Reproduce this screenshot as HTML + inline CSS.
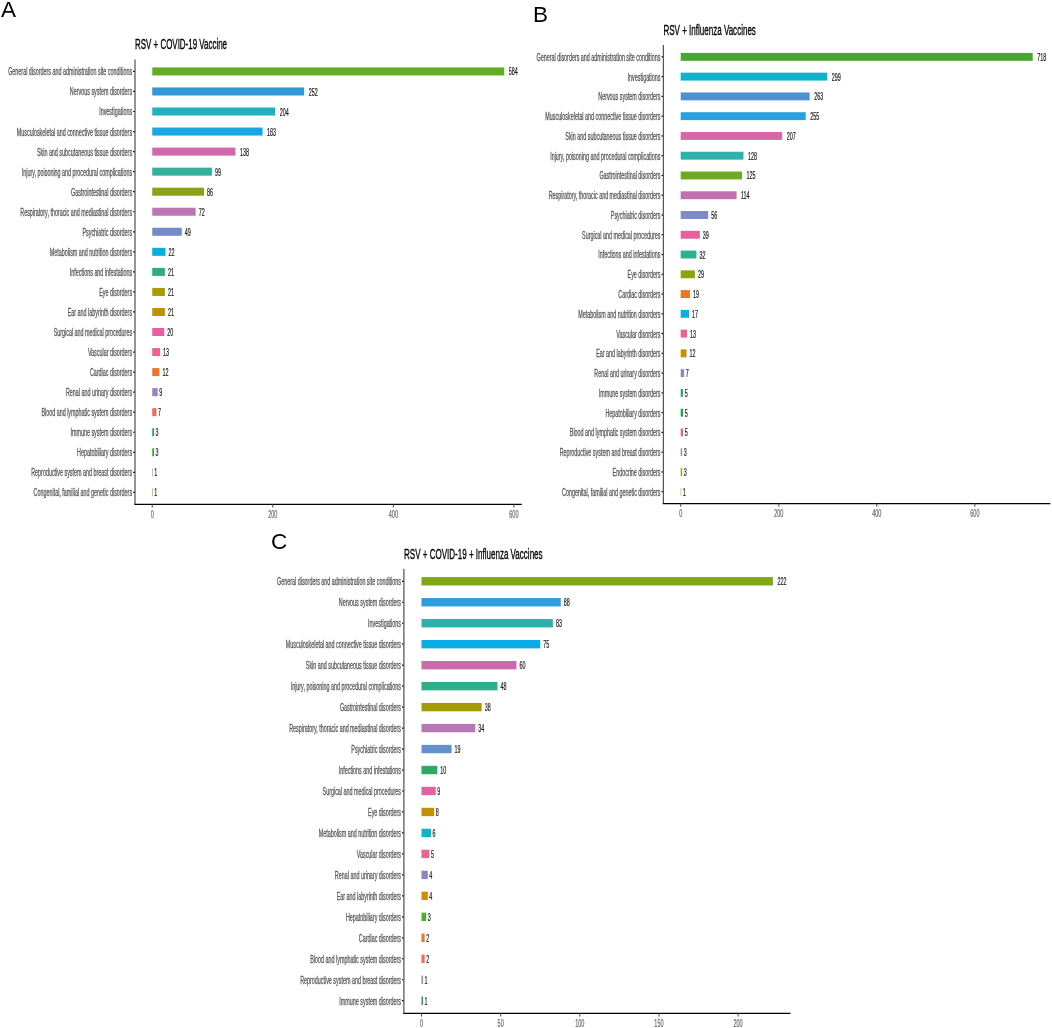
<!DOCTYPE html>
<html><head><meta charset="utf-8"><style>
html,body{margin:0;padding:0;background:#fff;}
svg{display:block;filter:blur(0.3px);}
text{font-family:"Liberation Sans",sans-serif;}
.c{stroke:#555;stroke-width:0.28;}
.k{stroke:#666;stroke-width:0.2;}
.v{stroke:#1A1A1A;stroke-width:0.22;}
.t{stroke:#000;stroke-width:0.35;}
</style></head><body>
<svg width="1052" height="1028" viewBox="0 0 1052 1028">
<rect width="1052" height="1028" fill="#fff"/>
<text x="1.00" y="16.70" font-size="22.5" fill="#000">A</text>
<text transform="translate(135.00,49.00) scale(0.5135,1)" font-size="15.5" fill="#000" class="t">RSV + COVID-19 Vaccine</text>
<rect x="152.25" y="67.42" width="352.00" height="8.02" fill="#64AB26"/>
<text transform="translate(508.76,75.45) scale(0.515,1)" font-size="10.5" fill="#1A1A1A" class="v">584</text>
<text transform="translate(132.10,75.37) scale(0.519,1)" font-size="10.4" fill="#555555" class="c" text-anchor="end">General disorders and administration site conditions</text>
<line x1="133.10" y1="71.43" x2="135.00" y2="71.43" stroke="#000" stroke-width="1.2"/>
<rect x="152.25" y="87.46" width="151.89" height="8.02" fill="#3596D8"/>
<text transform="translate(308.65,95.50) scale(0.515,1)" font-size="10.5" fill="#1A1A1A" class="v">252</text>
<text transform="translate(132.10,95.41) scale(0.519,1)" font-size="10.4" fill="#555555" class="c" text-anchor="end">Nervous system disorders</text>
<line x1="133.10" y1="91.47" x2="135.00" y2="91.47" stroke="#000" stroke-width="1.2"/>
<rect x="152.25" y="107.51" width="122.96" height="8.02" fill="#22B1BA"/>
<text transform="translate(279.72,115.54) scale(0.515,1)" font-size="10.5" fill="#1A1A1A" class="v">204</text>
<text transform="translate(132.10,115.46) scale(0.519,1)" font-size="10.4" fill="#555555" class="c" text-anchor="end">Investigations</text>
<line x1="133.10" y1="111.52" x2="135.00" y2="111.52" stroke="#000" stroke-width="1.2"/>
<rect x="152.25" y="127.55" width="110.30" height="8.02" fill="#19A6E2"/>
<text transform="translate(267.06,135.59) scale(0.515,1)" font-size="10.5" fill="#1A1A1A" class="v">183</text>
<text transform="translate(132.10,135.50) scale(0.519,1)" font-size="10.4" fill="#555555" class="c" text-anchor="end">Musculoskeletal and connective tissue disorders</text>
<line x1="133.10" y1="131.56" x2="135.00" y2="131.56" stroke="#000" stroke-width="1.2"/>
<rect x="152.25" y="147.60" width="83.18" height="8.02" fill="#D268A9"/>
<text transform="translate(239.94,155.63) scale(0.515,1)" font-size="10.5" fill="#1A1A1A" class="v">138</text>
<text transform="translate(132.10,155.55) scale(0.519,1)" font-size="10.4" fill="#555555" class="c" text-anchor="end">Skin and subcutaneous tissue disorders</text>
<line x1="133.10" y1="151.61" x2="135.00" y2="151.61" stroke="#000" stroke-width="1.2"/>
<rect x="152.25" y="167.64" width="59.67" height="8.02" fill="#33B09C"/>
<text transform="translate(214.93,175.68) scale(0.515,1)" font-size="10.5" fill="#1A1A1A" class="v">99</text>
<text transform="translate(132.10,175.59) scale(0.519,1)" font-size="10.4" fill="#555555" class="c" text-anchor="end">Injury, poisoning and procedural complications</text>
<line x1="133.10" y1="171.65" x2="135.00" y2="171.65" stroke="#000" stroke-width="1.2"/>
<rect x="152.25" y="187.69" width="51.84" height="8.02" fill="#89A314"/>
<text transform="translate(207.09,195.72) scale(0.515,1)" font-size="10.5" fill="#1A1A1A" class="v">86</text>
<text transform="translate(132.10,195.64) scale(0.519,1)" font-size="10.4" fill="#555555" class="c" text-anchor="end">Gastrointestinal disorders</text>
<line x1="133.10" y1="191.70" x2="135.00" y2="191.70" stroke="#000" stroke-width="1.2"/>
<rect x="152.25" y="207.73" width="43.40" height="8.02" fill="#BB76B2"/>
<text transform="translate(198.65,215.77) scale(0.515,1)" font-size="10.5" fill="#1A1A1A" class="v">72</text>
<text transform="translate(132.10,215.68) scale(0.519,1)" font-size="10.4" fill="#555555" class="c" text-anchor="end">Respiratory, thoracic and mediastinal disorders</text>
<line x1="133.10" y1="211.74" x2="135.00" y2="211.74" stroke="#000" stroke-width="1.2"/>
<rect x="152.25" y="227.78" width="29.53" height="8.02" fill="#758BC9"/>
<text transform="translate(184.79,235.81) scale(0.515,1)" font-size="10.5" fill="#1A1A1A" class="v">49</text>
<text transform="translate(132.10,235.73) scale(0.519,1)" font-size="10.4" fill="#555555" class="c" text-anchor="end">Psychiatric disorders</text>
<line x1="133.10" y1="231.79" x2="135.00" y2="231.79" stroke="#000" stroke-width="1.2"/>
<rect x="152.25" y="247.82" width="13.26" height="8.02" fill="#03B1DC"/>
<text transform="translate(168.52,255.86) scale(0.515,1)" font-size="10.5" fill="#1A1A1A" class="v">22</text>
<text transform="translate(132.10,255.77) scale(0.519,1)" font-size="10.4" fill="#555555" class="c" text-anchor="end">Metabolism and nutrition disorders</text>
<line x1="133.10" y1="251.83" x2="135.00" y2="251.83" stroke="#000" stroke-width="1.2"/>
<rect x="152.25" y="267.87" width="12.66" height="8.02" fill="#33AC7C"/>
<text transform="translate(167.91,275.90) scale(0.515,1)" font-size="10.5" fill="#1A1A1A" class="v">21</text>
<text transform="translate(132.10,275.82) scale(0.519,1)" font-size="10.4" fill="#555555" class="c" text-anchor="end">Infections and infestations</text>
<line x1="133.10" y1="271.88" x2="135.00" y2="271.88" stroke="#000" stroke-width="1.2"/>
<rect x="152.25" y="287.91" width="12.66" height="8.02" fill="#A99C03"/>
<text transform="translate(167.91,295.95) scale(0.515,1)" font-size="10.5" fill="#1A1A1A" class="v">21</text>
<text transform="translate(132.10,295.86) scale(0.519,1)" font-size="10.4" fill="#555555" class="c" text-anchor="end">Eye disorders</text>
<line x1="133.10" y1="291.92" x2="135.00" y2="291.92" stroke="#000" stroke-width="1.2"/>
<rect x="152.25" y="307.96" width="12.66" height="8.02" fill="#C19105"/>
<text transform="translate(167.91,316.00) scale(0.515,1)" font-size="10.5" fill="#1A1A1A" class="v">21</text>
<text transform="translate(132.10,315.91) scale(0.519,1)" font-size="10.4" fill="#555555" class="c" text-anchor="end">Ear and labyrinth disorders</text>
<line x1="133.10" y1="311.97" x2="135.00" y2="311.97" stroke="#000" stroke-width="1.2"/>
<rect x="152.25" y="328.00" width="12.05" height="8.02" fill="#E65F9F"/>
<text transform="translate(167.31,336.04) scale(0.515,1)" font-size="10.5" fill="#1A1A1A" class="v">20</text>
<text transform="translate(132.10,335.95) scale(0.519,1)" font-size="10.4" fill="#555555" class="c" text-anchor="end">Surgical and medical procedures</text>
<line x1="133.10" y1="332.01" x2="135.00" y2="332.01" stroke="#000" stroke-width="1.2"/>
<rect x="152.25" y="348.05" width="7.84" height="8.02" fill="#EC648C"/>
<text transform="translate(163.09,356.09) scale(0.515,1)" font-size="10.5" fill="#1A1A1A" class="v">13</text>
<text transform="translate(132.10,356.00) scale(0.519,1)" font-size="10.4" fill="#555555" class="c" text-anchor="end">Vascular disorders</text>
<line x1="133.10" y1="352.06" x2="135.00" y2="352.06" stroke="#000" stroke-width="1.2"/>
<rect x="152.25" y="368.09" width="7.23" height="8.02" fill="#E6772A"/>
<text transform="translate(162.49,376.13) scale(0.515,1)" font-size="10.5" fill="#1A1A1A" class="v">12</text>
<text transform="translate(132.10,376.04) scale(0.519,1)" font-size="10.4" fill="#555555" class="c" text-anchor="end">Cardiac disorders</text>
<line x1="133.10" y1="372.10" x2="135.00" y2="372.10" stroke="#000" stroke-width="1.2"/>
<rect x="152.25" y="388.14" width="5.42" height="8.02" fill="#9584C1"/>
<text transform="translate(159.18,396.18) scale(0.515,1)" font-size="10.5" fill="#1A1A1A" class="v">9</text>
<text transform="translate(132.10,396.09) scale(0.519,1)" font-size="10.4" fill="#555555" class="c" text-anchor="end">Renal and urinary disorders</text>
<line x1="133.10" y1="392.15" x2="135.00" y2="392.15" stroke="#000" stroke-width="1.2"/>
<rect x="152.25" y="408.18" width="4.22" height="8.02" fill="#EF6A62"/>
<text transform="translate(157.97,416.22) scale(0.515,1)" font-size="10.5" fill="#1A1A1A" class="v">7</text>
<text transform="translate(132.10,416.13) scale(0.519,1)" font-size="10.4" fill="#555555" class="c" text-anchor="end">Blood and lymphatic system disorders</text>
<line x1="133.10" y1="412.19" x2="135.00" y2="412.19" stroke="#000" stroke-width="1.2"/>
<rect x="152.25" y="428.23" width="1.81" height="8.02" fill="#2AA651"/>
<text transform="translate(155.56,436.27) scale(0.515,1)" font-size="10.5" fill="#1A1A1A" class="v">3</text>
<text transform="translate(132.10,436.18) scale(0.519,1)" font-size="10.4" fill="#555555" class="c" text-anchor="end">Immune system disorders</text>
<line x1="133.10" y1="432.24" x2="135.00" y2="432.24" stroke="#000" stroke-width="1.2"/>
<rect x="152.25" y="448.27" width="1.81" height="8.02" fill="#38A631"/>
<text transform="translate(155.56,456.31) scale(0.515,1)" font-size="10.5" fill="#1A1A1A" class="v">3</text>
<text transform="translate(132.10,456.22) scale(0.519,1)" font-size="10.4" fill="#555555" class="c" text-anchor="end">Hepatobiliary disorders</text>
<line x1="133.10" y1="452.28" x2="135.00" y2="452.28" stroke="#000" stroke-width="1.2"/>
<rect x="152.25" y="468.32" width="0.60" height="8.02" fill="#A97EBA"/>
<text transform="translate(154.36,476.36) scale(0.515,1)" font-size="10.5" fill="#1A1A1A" class="v">1</text>
<text transform="translate(132.10,476.27) scale(0.519,1)" font-size="10.4" fill="#555555" class="c" text-anchor="end">Reproductive system and breast disorders</text>
<line x1="133.10" y1="472.33" x2="135.00" y2="472.33" stroke="#000" stroke-width="1.2"/>
<rect x="152.25" y="488.36" width="0.60" height="8.02" fill="#D6870B"/>
<text transform="translate(154.36,496.40) scale(0.515,1)" font-size="10.5" fill="#1A1A1A" class="v">1</text>
<text transform="translate(132.10,496.31) scale(0.519,1)" font-size="10.4" fill="#555555" class="c" text-anchor="end">Congenital, familial and genetic disorders</text>
<line x1="133.10" y1="492.37" x2="135.00" y2="492.37" stroke="#000" stroke-width="1.2"/>
<line x1="135.00" y1="59.40" x2="135.00" y2="504.40" stroke="#555555" stroke-width="1.25"/>
<line x1="134.40" y1="504.40" x2="521.80" y2="504.40" stroke="#000" stroke-width="1.3"/>
<line x1="152.25" y1="504.40" x2="152.25" y2="507.60" stroke="#555" stroke-width="1.1"/>
<text transform="translate(152.25,517.80) scale(0.535,1)" font-size="10.3" fill="#666666" class="k" text-anchor="middle">0</text>
<line x1="272.80" y1="504.40" x2="272.80" y2="507.60" stroke="#555" stroke-width="1.1"/>
<text transform="translate(272.80,517.80) scale(0.535,1)" font-size="10.3" fill="#666666" class="k" text-anchor="middle">200</text>
<line x1="393.35" y1="504.40" x2="393.35" y2="507.60" stroke="#555" stroke-width="1.1"/>
<text transform="translate(393.35,517.80) scale(0.535,1)" font-size="10.3" fill="#666666" class="k" text-anchor="middle">400</text>
<line x1="513.89" y1="504.40" x2="513.89" y2="507.60" stroke="#555" stroke-width="1.1"/>
<text transform="translate(513.89,517.80) scale(0.535,1)" font-size="10.3" fill="#666666" class="k" text-anchor="middle">600</text>
<text x="533.00" y="22.40" font-size="22.5" fill="#000">B</text>
<text transform="translate(663.40,34.90) scale(0.519,1)" font-size="15.5" fill="#000" class="t">RSV + Influenza Vaccines</text>
<rect x="680.70" y="52.91" width="352.00" height="7.91" fill="#46A92E"/>
<text transform="translate(1037.21,60.89) scale(0.515,1)" font-size="10.5" fill="#1A1A1A" class="v">718</text>
<text transform="translate(660.50,60.80) scale(0.519,1)" font-size="10.4" fill="#555555" class="c" text-anchor="end">General disorders and administration site conditions</text>
<line x1="661.50" y1="56.86" x2="663.40" y2="56.86" stroke="#000" stroke-width="1.2"/>
<rect x="680.70" y="72.67" width="146.58" height="7.91" fill="#11B1CB"/>
<text transform="translate(831.80,80.66) scale(0.515,1)" font-size="10.5" fill="#1A1A1A" class="v">299</text>
<text transform="translate(660.50,80.57) scale(0.519,1)" font-size="10.4" fill="#555555" class="c" text-anchor="end">Investigations</text>
<line x1="661.50" y1="76.63" x2="663.40" y2="76.63" stroke="#000" stroke-width="1.2"/>
<rect x="680.70" y="92.44" width="128.94" height="7.91" fill="#4D91D3"/>
<text transform="translate(814.15,100.42) scale(0.515,1)" font-size="10.5" fill="#1A1A1A" class="v">263</text>
<text transform="translate(660.50,100.33) scale(0.519,1)" font-size="10.4" fill="#555555" class="c" text-anchor="end">Nervous system disorders</text>
<line x1="661.50" y1="96.39" x2="663.40" y2="96.39" stroke="#000" stroke-width="1.2"/>
<rect x="680.70" y="112.21" width="125.01" height="7.91" fill="#2BA0DF"/>
<text transform="translate(810.23,120.19) scale(0.515,1)" font-size="10.5" fill="#1A1A1A" class="v">255</text>
<text transform="translate(660.50,120.10) scale(0.519,1)" font-size="10.4" fill="#555555" class="c" text-anchor="end">Musculoskeletal and connective tissue disorders</text>
<line x1="661.50" y1="116.16" x2="663.40" y2="116.16" stroke="#000" stroke-width="1.2"/>
<rect x="680.70" y="131.98" width="101.48" height="7.91" fill="#D667A8"/>
<text transform="translate(786.69,139.96) scale(0.515,1)" font-size="10.5" fill="#1A1A1A" class="v">207</text>
<text transform="translate(660.50,139.87) scale(0.519,1)" font-size="10.4" fill="#555555" class="c" text-anchor="end">Skin and subcutaneous tissue disorders</text>
<line x1="661.50" y1="135.93" x2="663.40" y2="135.93" stroke="#000" stroke-width="1.2"/>
<rect x="680.70" y="151.74" width="62.75" height="7.91" fill="#2CB1AC"/>
<text transform="translate(747.96,159.72) scale(0.515,1)" font-size="10.5" fill="#1A1A1A" class="v">128</text>
<text transform="translate(660.50,159.63) scale(0.519,1)" font-size="10.4" fill="#555555" class="c" text-anchor="end">Injury, poisoning and procedural complications</text>
<line x1="661.50" y1="155.70" x2="663.40" y2="155.70" stroke="#000" stroke-width="1.2"/>
<rect x="680.70" y="171.51" width="61.28" height="7.91" fill="#6EAA21"/>
<text transform="translate(746.49,179.49) scale(0.515,1)" font-size="10.5" fill="#1A1A1A" class="v">125</text>
<text transform="translate(660.50,179.40) scale(0.519,1)" font-size="10.4" fill="#555555" class="c" text-anchor="end">Gastrointestinal disorders</text>
<line x1="661.50" y1="175.46" x2="663.40" y2="175.46" stroke="#000" stroke-width="1.2"/>
<rect x="680.70" y="191.28" width="55.89" height="7.91" fill="#BE73B0"/>
<text transform="translate(740.90,199.26) scale(0.515,1)" font-size="10.5" fill="#1A1A1A" class="v">114</text>
<text transform="translate(660.50,199.17) scale(0.519,1)" font-size="10.4" fill="#555555" class="c" text-anchor="end">Respiratory, thoracic and mediastinal disorders</text>
<line x1="661.50" y1="195.23" x2="663.40" y2="195.23" stroke="#000" stroke-width="1.2"/>
<rect x="680.70" y="211.04" width="27.45" height="7.91" fill="#8189C7"/>
<text transform="translate(711.16,219.03) scale(0.515,1)" font-size="10.5" fill="#1A1A1A" class="v">56</text>
<text transform="translate(660.50,218.94) scale(0.519,1)" font-size="10.4" fill="#555555" class="c" text-anchor="end">Psychiatric disorders</text>
<line x1="661.50" y1="215.00" x2="663.40" y2="215.00" stroke="#000" stroke-width="1.2"/>
<rect x="680.70" y="230.81" width="19.12" height="7.91" fill="#E75F9E"/>
<text transform="translate(702.83,238.79) scale(0.515,1)" font-size="10.5" fill="#1A1A1A" class="v">39</text>
<text transform="translate(660.50,238.70) scale(0.519,1)" font-size="10.4" fill="#555555" class="c" text-anchor="end">Surgical and medical procedures</text>
<line x1="661.50" y1="234.77" x2="663.40" y2="234.77" stroke="#000" stroke-width="1.2"/>
<rect x="680.70" y="250.58" width="15.69" height="7.91" fill="#30AE8F"/>
<text transform="translate(699.40,258.56) scale(0.515,1)" font-size="10.5" fill="#1A1A1A" class="v">32</text>
<text transform="translate(660.50,258.47) scale(0.519,1)" font-size="10.4" fill="#555555" class="c" text-anchor="end">Infections and infestations</text>
<line x1="661.50" y1="254.53" x2="663.40" y2="254.53" stroke="#000" stroke-width="1.2"/>
<rect x="680.70" y="270.35" width="14.22" height="7.91" fill="#8EA210"/>
<text transform="translate(697.92,278.33) scale(0.515,1)" font-size="10.5" fill="#1A1A1A" class="v">29</text>
<text transform="translate(660.50,278.24) scale(0.519,1)" font-size="10.4" fill="#555555" class="c" text-anchor="end">Eye disorders</text>
<line x1="661.50" y1="274.30" x2="663.40" y2="274.30" stroke="#000" stroke-width="1.2"/>
<rect x="680.70" y="290.11" width="9.31" height="7.91" fill="#E6772D"/>
<text transform="translate(693.02,298.09) scale(0.515,1)" font-size="10.5" fill="#1A1A1A" class="v">19</text>
<text transform="translate(660.50,298.01) scale(0.519,1)" font-size="10.4" fill="#555555" class="c" text-anchor="end">Cardiac disorders</text>
<line x1="661.50" y1="294.07" x2="663.40" y2="294.07" stroke="#000" stroke-width="1.2"/>
<rect x="680.70" y="309.88" width="8.33" height="7.91" fill="#05AEE4"/>
<text transform="translate(692.04,317.86) scale(0.515,1)" font-size="10.5" fill="#1A1A1A" class="v">17</text>
<text transform="translate(660.50,317.77) scale(0.519,1)" font-size="10.4" fill="#555555" class="c" text-anchor="end">Metabolism and nutrition disorders</text>
<line x1="661.50" y1="313.83" x2="663.40" y2="313.83" stroke="#000" stroke-width="1.2"/>
<rect x="680.70" y="329.65" width="6.37" height="7.91" fill="#EB658A"/>
<text transform="translate(690.08,337.63) scale(0.515,1)" font-size="10.5" fill="#1A1A1A" class="v">13</text>
<text transform="translate(660.50,337.54) scale(0.519,1)" font-size="10.4" fill="#555555" class="c" text-anchor="end">Vascular disorders</text>
<line x1="661.50" y1="333.60" x2="663.40" y2="333.60" stroke="#000" stroke-width="1.2"/>
<rect x="680.70" y="349.42" width="5.88" height="7.91" fill="#C49006"/>
<text transform="translate(689.59,357.40) scale(0.515,1)" font-size="10.5" fill="#1A1A1A" class="v">12</text>
<text transform="translate(660.50,357.31) scale(0.519,1)" font-size="10.4" fill="#555555" class="c" text-anchor="end">Ear and labyrinth disorders</text>
<line x1="661.50" y1="353.37" x2="663.40" y2="353.37" stroke="#000" stroke-width="1.2"/>
<rect x="680.70" y="369.18" width="3.43" height="7.91" fill="#9B83BF"/>
<text transform="translate(685.64,377.16) scale(0.515,1)" font-size="10.5" fill="#1A1A1A" class="v">7</text>
<text transform="translate(660.50,377.07) scale(0.519,1)" font-size="10.4" fill="#555555" class="c" text-anchor="end">Renal and urinary disorders</text>
<line x1="661.50" y1="373.14" x2="663.40" y2="373.14" stroke="#000" stroke-width="1.2"/>
<rect x="680.70" y="388.95" width="2.45" height="7.91" fill="#30AA6D"/>
<text transform="translate(684.65,396.93) scale(0.515,1)" font-size="10.5" fill="#1A1A1A" class="v">5</text>
<text transform="translate(660.50,396.84) scale(0.519,1)" font-size="10.4" fill="#555555" class="c" text-anchor="end">Immune system disorders</text>
<line x1="661.50" y1="392.90" x2="663.40" y2="392.90" stroke="#000" stroke-width="1.2"/>
<rect x="680.70" y="408.72" width="2.45" height="7.91" fill="#21A542"/>
<text transform="translate(684.65,416.70) scale(0.515,1)" font-size="10.5" fill="#1A1A1A" class="v">5</text>
<text transform="translate(660.50,416.61) scale(0.519,1)" font-size="10.4" fill="#555555" class="c" text-anchor="end">Hepatobiliary disorders</text>
<line x1="661.50" y1="412.67" x2="663.40" y2="412.67" stroke="#000" stroke-width="1.2"/>
<rect x="680.70" y="428.48" width="2.45" height="7.91" fill="#EF6A62"/>
<text transform="translate(684.65,436.47) scale(0.515,1)" font-size="10.5" fill="#1A1A1A" class="v">5</text>
<text transform="translate(660.50,436.38) scale(0.519,1)" font-size="10.4" fill="#555555" class="c" text-anchor="end">Blood and lymphatic system disorders</text>
<line x1="661.50" y1="432.44" x2="663.40" y2="432.44" stroke="#000" stroke-width="1.2"/>
<rect x="680.70" y="448.25" width="1.47" height="7.91" fill="#AD7DB9"/>
<text transform="translate(683.67,456.23) scale(0.515,1)" font-size="10.5" fill="#1A1A1A" class="v">3</text>
<text transform="translate(660.50,456.14) scale(0.519,1)" font-size="10.4" fill="#555555" class="c" text-anchor="end">Reproductive system and breast disorders</text>
<line x1="661.50" y1="452.21" x2="663.40" y2="452.21" stroke="#000" stroke-width="1.2"/>
<rect x="680.70" y="468.02" width="1.47" height="7.91" fill="#AF9A01"/>
<text transform="translate(683.67,476.00) scale(0.515,1)" font-size="10.5" fill="#1A1A1A" class="v">3</text>
<text transform="translate(660.50,475.91) scale(0.519,1)" font-size="10.4" fill="#555555" class="c" text-anchor="end">Endocrine disorders</text>
<line x1="661.50" y1="471.97" x2="663.40" y2="471.97" stroke="#000" stroke-width="1.2"/>
<rect x="680.70" y="487.79" width="0.49" height="7.91" fill="#D9860B"/>
<text transform="translate(682.69,495.77) scale(0.515,1)" font-size="10.5" fill="#1A1A1A" class="v">1</text>
<text transform="translate(660.50,495.68) scale(0.519,1)" font-size="10.4" fill="#555555" class="c" text-anchor="end">Congenital, familial and genetic disorders</text>
<line x1="661.50" y1="491.74" x2="663.40" y2="491.74" stroke="#000" stroke-width="1.2"/>
<line x1="663.40" y1="45.00" x2="663.40" y2="503.60" stroke="#555555" stroke-width="1.25"/>
<line x1="662.80" y1="503.60" x2="1050.30" y2="503.60" stroke="#000" stroke-width="1.3"/>
<line x1="680.70" y1="503.60" x2="680.70" y2="506.80" stroke="#555" stroke-width="1.1"/>
<text transform="translate(680.70,517.00) scale(0.535,1)" font-size="10.3" fill="#666666" class="k" text-anchor="middle">0</text>
<line x1="778.75" y1="503.60" x2="778.75" y2="506.80" stroke="#555" stroke-width="1.1"/>
<text transform="translate(778.75,517.00) scale(0.535,1)" font-size="10.3" fill="#666666" class="k" text-anchor="middle">200</text>
<line x1="876.80" y1="503.60" x2="876.80" y2="506.80" stroke="#555" stroke-width="1.1"/>
<text transform="translate(876.80,517.00) scale(0.535,1)" font-size="10.3" fill="#666666" class="k" text-anchor="middle">400</text>
<line x1="974.85" y1="503.60" x2="974.85" y2="506.80" stroke="#555" stroke-width="1.1"/>
<text transform="translate(974.85,517.00) scale(0.535,1)" font-size="10.3" fill="#666666" class="k" text-anchor="middle">600</text>
<text x="271.00" y="548.80" font-size="22.5" fill="#000">C</text>
<text transform="translate(404.00,558.60) scale(0.5185,1)" font-size="15.5" fill="#000" class="t">RSV + COVID-19 + Influenza Vaccines</text>
<rect x="421.50" y="577.09" width="351.40" height="8.39" fill="#80A619"/>
<text transform="translate(777.41,585.31) scale(0.515,1)" font-size="10.5" fill="#1A1A1A" class="v">222</text>
<text transform="translate(401.00,585.22) scale(0.519,1)" font-size="10.4" fill="#555555" class="c" text-anchor="end">General disorders and administration site conditions</text>
<line x1="402.00" y1="581.28" x2="403.90" y2="581.28" stroke="#000" stroke-width="1.2"/>
<rect x="421.50" y="598.06" width="139.29" height="8.39" fill="#309CDC"/>
<text transform="translate(563.80,606.28) scale(0.515,1)" font-size="10.5" fill="#1A1A1A" class="v">88</text>
<text transform="translate(401.00,606.19) scale(0.519,1)" font-size="10.4" fill="#555555" class="c" text-anchor="end">Nervous system disorders</text>
<line x1="402.00" y1="602.25" x2="403.90" y2="602.25" stroke="#000" stroke-width="1.2"/>
<rect x="421.50" y="619.03" width="131.38" height="8.39" fill="#2CB1AA"/>
<text transform="translate(555.89,627.25) scale(0.515,1)" font-size="10.5" fill="#1A1A1A" class="v">83</text>
<text transform="translate(401.00,627.16) scale(0.519,1)" font-size="10.4" fill="#555555" class="c" text-anchor="end">Investigations</text>
<line x1="402.00" y1="623.23" x2="403.90" y2="623.23" stroke="#000" stroke-width="1.2"/>
<rect x="421.50" y="640.00" width="118.72" height="8.39" fill="#0BACE4"/>
<text transform="translate(543.22,648.23) scale(0.515,1)" font-size="10.5" fill="#1A1A1A" class="v">75</text>
<text transform="translate(401.00,648.14) scale(0.519,1)" font-size="10.4" fill="#555555" class="c" text-anchor="end">Musculoskeletal and connective tissue disorders</text>
<line x1="402.00" y1="644.20" x2="403.90" y2="644.20" stroke="#000" stroke-width="1.2"/>
<rect x="421.50" y="660.98" width="94.97" height="8.39" fill="#CC6BAA"/>
<text transform="translate(519.48,669.20) scale(0.515,1)" font-size="10.5" fill="#1A1A1A" class="v">60</text>
<text transform="translate(401.00,669.11) scale(0.519,1)" font-size="10.4" fill="#555555" class="c" text-anchor="end">Skin and subcutaneous tissue disorders</text>
<line x1="402.00" y1="665.17" x2="403.90" y2="665.17" stroke="#000" stroke-width="1.2"/>
<rect x="421.50" y="681.95" width="75.98" height="8.39" fill="#30AE8A"/>
<text transform="translate(500.49,690.17) scale(0.515,1)" font-size="10.5" fill="#1A1A1A" class="v">48</text>
<text transform="translate(401.00,690.08) scale(0.519,1)" font-size="10.4" fill="#555555" class="c" text-anchor="end">Injury, poisoning and procedural complications</text>
<line x1="402.00" y1="686.14" x2="403.90" y2="686.14" stroke="#000" stroke-width="1.2"/>
<rect x="421.50" y="702.92" width="60.15" height="8.39" fill="#A29D07"/>
<text transform="translate(484.66,711.14) scale(0.515,1)" font-size="10.5" fill="#1A1A1A" class="v">38</text>
<text transform="translate(401.00,711.05) scale(0.519,1)" font-size="10.4" fill="#555555" class="c" text-anchor="end">Gastrointestinal disorders</text>
<line x1="402.00" y1="707.11" x2="403.90" y2="707.11" stroke="#000" stroke-width="1.2"/>
<rect x="421.50" y="723.89" width="53.82" height="8.39" fill="#B778B5"/>
<text transform="translate(478.33,732.11) scale(0.515,1)" font-size="10.5" fill="#1A1A1A" class="v">34</text>
<text transform="translate(401.00,732.02) scale(0.519,1)" font-size="10.4" fill="#555555" class="c" text-anchor="end">Respiratory, thoracic and mediastinal disorders</text>
<line x1="402.00" y1="728.08" x2="403.90" y2="728.08" stroke="#000" stroke-width="1.2"/>
<rect x="421.50" y="744.86" width="30.07" height="8.39" fill="#648FCE"/>
<text transform="translate(454.58,753.08) scale(0.515,1)" font-size="10.5" fill="#1A1A1A" class="v">19</text>
<text transform="translate(401.00,752.99) scale(0.519,1)" font-size="10.4" fill="#555555" class="c" text-anchor="end">Psychiatric disorders</text>
<line x1="402.00" y1="749.06" x2="403.90" y2="749.06" stroke="#000" stroke-width="1.2"/>
<rect x="421.50" y="765.83" width="15.83" height="8.39" fill="#2EA963"/>
<text transform="translate(440.34,774.06) scale(0.515,1)" font-size="10.5" fill="#1A1A1A" class="v">10</text>
<text transform="translate(401.00,773.97) scale(0.519,1)" font-size="10.4" fill="#555555" class="c" text-anchor="end">Infections and infestations</text>
<line x1="402.00" y1="770.03" x2="403.90" y2="770.03" stroke="#000" stroke-width="1.2"/>
<rect x="421.50" y="786.81" width="14.25" height="8.39" fill="#E660A0"/>
<text transform="translate(437.25,795.03) scale(0.515,1)" font-size="10.5" fill="#1A1A1A" class="v">9</text>
<text transform="translate(401.00,794.94) scale(0.519,1)" font-size="10.4" fill="#555555" class="c" text-anchor="end">Surgical and medical procedures</text>
<line x1="402.00" y1="791.00" x2="403.90" y2="791.00" stroke="#000" stroke-width="1.2"/>
<rect x="421.50" y="807.78" width="12.66" height="8.39" fill="#BF9303"/>
<text transform="translate(435.67,816.00) scale(0.515,1)" font-size="10.5" fill="#1A1A1A" class="v">8</text>
<text transform="translate(401.00,815.91) scale(0.519,1)" font-size="10.4" fill="#555555" class="c" text-anchor="end">Eye disorders</text>
<line x1="402.00" y1="811.97" x2="403.90" y2="811.97" stroke="#000" stroke-width="1.2"/>
<rect x="421.50" y="828.75" width="9.50" height="8.39" fill="#10B2CC"/>
<text transform="translate(432.50,836.97) scale(0.515,1)" font-size="10.5" fill="#1A1A1A" class="v">6</text>
<text transform="translate(401.00,836.88) scale(0.519,1)" font-size="10.4" fill="#555555" class="c" text-anchor="end">Metabolism and nutrition disorders</text>
<line x1="402.00" y1="832.94" x2="403.90" y2="832.94" stroke="#000" stroke-width="1.2"/>
<rect x="421.50" y="849.72" width="7.91" height="8.39" fill="#EC638D"/>
<text transform="translate(430.92,857.94) scale(0.515,1)" font-size="10.5" fill="#1A1A1A" class="v">5</text>
<text transform="translate(401.00,857.85) scale(0.519,1)" font-size="10.4" fill="#555555" class="c" text-anchor="end">Vascular disorders</text>
<line x1="402.00" y1="853.92" x2="403.90" y2="853.92" stroke="#000" stroke-width="1.2"/>
<rect x="421.50" y="870.69" width="6.33" height="8.39" fill="#8E86C2"/>
<text transform="translate(429.34,878.91) scale(0.515,1)" font-size="10.5" fill="#1A1A1A" class="v">4</text>
<text transform="translate(401.00,878.82) scale(0.519,1)" font-size="10.4" fill="#555555" class="c" text-anchor="end">Renal and urinary disorders</text>
<line x1="402.00" y1="874.89" x2="403.90" y2="874.89" stroke="#000" stroke-width="1.2"/>
<rect x="421.50" y="891.66" width="6.33" height="8.39" fill="#D5890B"/>
<text transform="translate(429.34,899.89) scale(0.515,1)" font-size="10.5" fill="#1A1A1A" class="v">4</text>
<text transform="translate(401.00,899.80) scale(0.519,1)" font-size="10.4" fill="#555555" class="c" text-anchor="end">Ear and labyrinth disorders</text>
<line x1="402.00" y1="895.86" x2="403.90" y2="895.86" stroke="#000" stroke-width="1.2"/>
<rect x="421.50" y="912.64" width="4.75" height="8.39" fill="#56AC2A"/>
<text transform="translate(427.75,920.86) scale(0.515,1)" font-size="10.5" fill="#1A1A1A" class="v">3</text>
<text transform="translate(401.00,920.77) scale(0.519,1)" font-size="10.4" fill="#555555" class="c" text-anchor="end">Hepatobiliary disorders</text>
<line x1="402.00" y1="916.83" x2="403.90" y2="916.83" stroke="#000" stroke-width="1.2"/>
<rect x="421.50" y="933.61" width="3.17" height="8.39" fill="#E67925"/>
<text transform="translate(426.17,941.83) scale(0.515,1)" font-size="10.5" fill="#1A1A1A" class="v">2</text>
<text transform="translate(401.00,941.74) scale(0.519,1)" font-size="10.4" fill="#555555" class="c" text-anchor="end">Cardiac disorders</text>
<line x1="402.00" y1="937.80" x2="403.90" y2="937.80" stroke="#000" stroke-width="1.2"/>
<rect x="421.50" y="954.58" width="3.17" height="8.39" fill="#EF6A62"/>
<text transform="translate(426.17,962.80) scale(0.515,1)" font-size="10.5" fill="#1A1A1A" class="v">2</text>
<text transform="translate(401.00,962.71) scale(0.519,1)" font-size="10.4" fill="#555555" class="c" text-anchor="end">Blood and lymphatic system disorders</text>
<line x1="402.00" y1="958.77" x2="403.90" y2="958.77" stroke="#000" stroke-width="1.2"/>
<rect x="421.50" y="975.55" width="1.58" height="8.39" fill="#A47FBB"/>
<text transform="translate(424.59,983.77) scale(0.515,1)" font-size="10.5" fill="#1A1A1A" class="v">1</text>
<text transform="translate(401.00,983.68) scale(0.519,1)" font-size="10.4" fill="#555555" class="c" text-anchor="end">Reproductive system and breast disorders</text>
<line x1="402.00" y1="979.75" x2="403.90" y2="979.75" stroke="#000" stroke-width="1.2"/>
<rect x="421.50" y="996.52" width="1.58" height="8.39" fill="#29A436"/>
<text transform="translate(424.59,1004.74) scale(0.515,1)" font-size="10.5" fill="#1A1A1A" class="v">1</text>
<text transform="translate(401.00,1004.65) scale(0.519,1)" font-size="10.4" fill="#555555" class="c" text-anchor="end">Immune system disorders</text>
<line x1="402.00" y1="1000.72" x2="403.90" y2="1000.72" stroke="#000" stroke-width="1.2"/>
<line x1="403.90" y1="568.70" x2="403.90" y2="1013.30" stroke="#555555" stroke-width="1.25"/>
<line x1="403.30" y1="1013.30" x2="790.50" y2="1013.30" stroke="#000" stroke-width="1.3"/>
<line x1="421.50" y1="1013.30" x2="421.50" y2="1016.50" stroke="#555" stroke-width="1.1"/>
<text transform="translate(421.50,1026.70) scale(0.535,1)" font-size="10.3" fill="#666666" class="k" text-anchor="middle">0</text>
<line x1="500.64" y1="1013.30" x2="500.64" y2="1016.50" stroke="#555" stroke-width="1.1"/>
<text transform="translate(500.64,1026.70) scale(0.535,1)" font-size="10.3" fill="#666666" class="k" text-anchor="middle">50</text>
<line x1="579.79" y1="1013.30" x2="579.79" y2="1016.50" stroke="#555" stroke-width="1.1"/>
<text transform="translate(579.79,1026.70) scale(0.535,1)" font-size="10.3" fill="#666666" class="k" text-anchor="middle">100</text>
<line x1="658.93" y1="1013.30" x2="658.93" y2="1016.50" stroke="#555" stroke-width="1.1"/>
<text transform="translate(658.93,1026.70) scale(0.535,1)" font-size="10.3" fill="#666666" class="k" text-anchor="middle">150</text>
<line x1="738.08" y1="1013.30" x2="738.08" y2="1016.50" stroke="#555" stroke-width="1.1"/>
<text transform="translate(738.08,1026.70) scale(0.535,1)" font-size="10.3" fill="#666666" class="k" text-anchor="middle">200</text>
</svg>
</body></html>
